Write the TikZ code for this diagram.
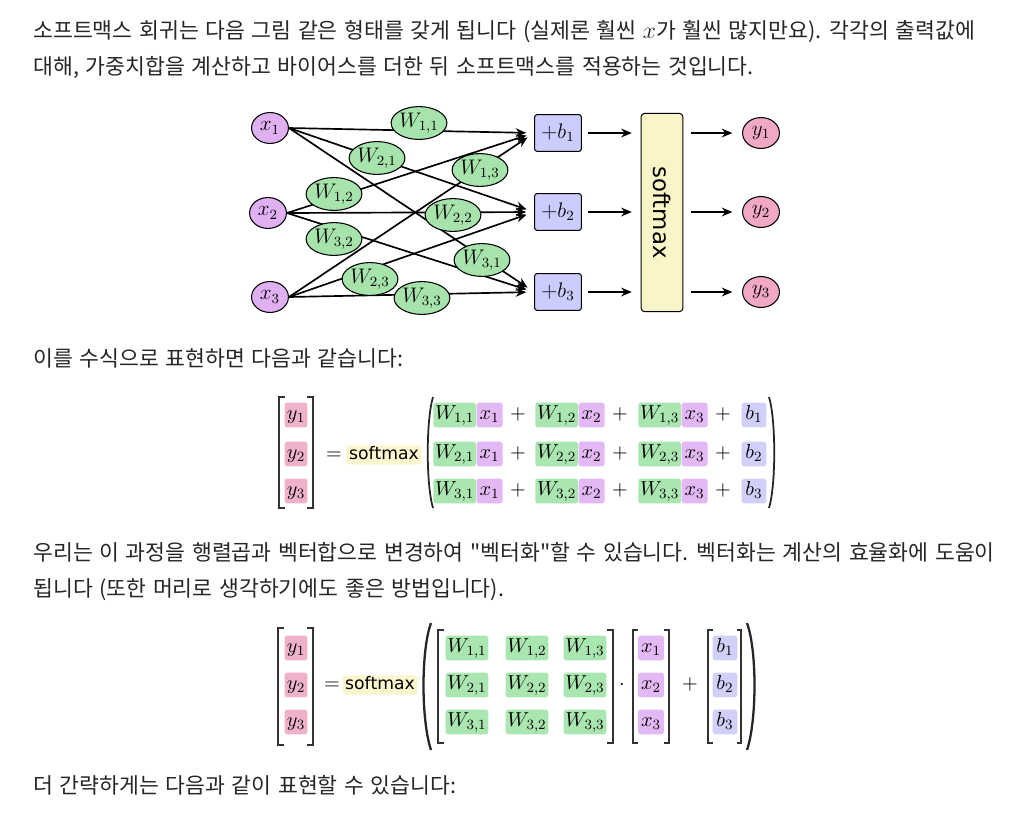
\RequirePackage{fix-cm}
\documentclass[tikz,border=0pt]{standalone}
\usepackage{fontspec}
\usepackage{graphicx}
\usetikzlibrary{math, shapes.geometric, arrows.meta}

\newfontfamily\krfont[WordSpace=1.35]{Noto Sans CJK KR}
\newfontfamily\smfont{DejaVu Sans}

\definecolor{xpurple}{RGB}{224,176,242}
\definecolor{wgreen}{RGB}{166,228,172}
\definecolor{bblue}{RGB}{204,204,255}
\definecolor{syellow}{RGB}{250,245,200}
\definecolor{ypink}{RGB}{240,168,196}
\definecolor{eqgreen}{RGB}{170,230,176}
\definecolor{eqpurple}{RGB}{228,184,244}
\definecolor{eqblue}{RGB}{208,208,250}
\definecolor{eqpink}{RGB}{240,178,202}
\definecolor{eqyellow}{RGB}{252,246,206}

\begin{document}
\begin{tikzpicture}[x=0.02cm, y=-0.02cm,
    >={Stealth[length=6pt, width=5pt]},
    txt/.style={anchor=base west, inner sep=0pt, text=black!85,
        font=\krfont\fontsize{12.3}{14}\selectfont},
    xnode/.style={ellipse, draw, fill=xpurple, line width=0.6pt,
        minimum width=21pt, minimum height=17.6pt, inner sep=0pt,
        font=\fontsize{12}{14}\selectfont},
    ynode/.style={xnode, fill=ypink},
    wnode/.style={xnode, fill=wgreen, minimum width=28.3pt, minimum height=18.7pt},
    bnode/.style={draw, fill=bblue, line width=0.6pt, rounded corners=1.5pt,
        minimum width=26.6pt, minimum height=21pt, inner sep=0pt,
        font=\fontsize{12}{14}\selectfont},
    smnode/.style={draw, fill=syellow, line width=0.6pt, rounded corners=2pt,
        minimum width=23.8pt, minimum height=112.8pt, inner sep=0pt,
        font=\smfont\fontsize{13}{15}\selectfont},
    wire/.style={->, line width=0.95pt},
    hl/.style={inner xsep=1pt, inner ysep=0.8pt, text height=9pt, text depth=3.5pt,
        rounded corners=1.5pt, font=\fontsize{11.5}{14}\selectfont},
    wbox/.style={hl, fill=eqgreen},
    xbox/.style={hl, fill=eqpurple, minimum width=14.7pt},
    bbox/.style={hl, fill=eqblue, minimum width=14pt},
    ybox/.style={hl, fill=eqpink, minimum width=13pt},
    smbox/.style={inner xsep=1.5pt, inner ysep=0.5pt, text height=7.5pt, text depth=2.5pt,
        rounded corners=1.5pt, fill=eqyellow, font=\smfont\fontsize{9.8}{12}\selectfont},
    op/.style={inner sep=0pt, text height=9pt, text depth=3.5pt,
        font=\fontsize{11.5}{14}\selectfont},
    brk/.style={line width=0.85pt, black!80},
    par/.style={line width=1pt, black!85},
]
    \tikzmath{
        \xval = 1031;
        \yval = 812;
    }

% fondo
\fill[white] (0,0) rectangle (\xval,\yval);
\useasboundingbox (0,0) rectangle (\xval,\yval);

% texto
\node[txt] (t1) at (33,38) {소프트맥스 회귀는 다음 그림 같은 형태를 갖게 됩니다 (실제론 훨씬 {\fontsize{13.5}{14}\selectfont$x$}가 훨씬 많지만요). 각각의 출력값에};
\node[txt] (t2) at (33,74) {대해, 가중치합을 계산하고 바이어스를 더한 뒤 소프트맥스를 적용하는 것입니다.};
\node[txt] (t3) at (33,366) {이를 수식으로 표현하면 다음과 같습니다:};
\node[txt] (t4) at (33,560) {우리는 이 과정을 행렬곱과 벡터합으로 변경하여 "벡터화"할 수 있습니다. 벡터화는 계산의 효율화에 도움이};
\node[txt] (t5) at (33,596) {됩니다 (또한 머리로 생각하기에도 좋은 방법입니다).};
\node[txt] (t6) at (33,793) {더 간략하게는 다음과 같이 표현할 수 있습니다:};

% red
\node[xnode] (x1) at (270,128) {$x_1$};
\node[xnode] (x2) at (268,213) {$x_2$};
\node[xnode] (x3) at (270,297) {$x_3$};

\node[bnode] (b1) at (558,133) {$+b_1$};
\node[bnode] (b2) at (558,212) {$+b_2$};
\node[bnode] (b3) at (558,292) {$+b_3$};

\node[smnode] (sm) at (662,212.5) {\rotatebox{-90}{softmax}};

\node[ynode] (y1) at (761,133) {$y_1$};
\node[ynode] (y2) at (761,212) {$y_2$};
\node[ynode] (y3) at (761,292) {$y_3$};

% conexiones
\foreach \i in {1,2,3} {
    \foreach \j in {1,2,3} {
        \draw[wire, shorten >=4.5pt] (x\i.east) -- (b\j.west);
    }
}

% pesos
\foreach \j/\i/\xx/\yy in {1/1/419/123, 2/1/377/158, 3/1/482/260,
                           1/2/334/194, 2/2/453/215, 3/2/334/239,
                           1/3/480/170, 2/3/370/279, 3/3/422/298} {
    \node[wnode] (w\j\i) at (\xx,\yy) {$W_{\j,\i}$};
}

\foreach \j in {1,2,3} {
    \draw[wire, shorten <=3.4pt, shorten >=5pt] (b\j.east) -- (sm.west |- b\j.east);
    \draw[wire, shorten <=4.5pt, shorten >=5.5pt] (sm.east |- y\j.west) -- (y\j.west);
}

% primera ecuacion
\foreach \r/\yy in {1/415, 2/454, 3/491} {
    \node[ybox] (ey\r) at (296,\yy) {$y_\r$};
    \node[wbox, anchor=west] (ew\r1) at (433,\yy) {$W_{\r,1}$};
    \node[xbox, anchor=west] (ex\r1) at (ew\r1.east) {$x_1$};
    \node[op] (ep\r1) at (518,\yy) {$+$};
    \node[wbox, anchor=west] (ew\r2) at (535,\yy) {$W_{\r,2}$};
    \node[xbox, anchor=west] (ex\r2) at (ew\r2.east) {$x_2$};
    \node[op] (ep\r2) at (620,\yy) {$+$};
    \node[wbox, anchor=west] (ew\r3) at (638,\yy) {$W_{\r,3}$};
    \node[xbox, anchor=west] (ex\r3) at (ew\r3.east) {$x_3$};
    \node[op] (ep\r3) at (723,\yy) {$+$};
    \node[bbox] (eb\r) at (754,\yy) {$b_\r$};
}
\node[op] (eeq) at (334,455) {$=$};
\node[smbox] (esm) at (384,455) {softmax};

\draw[brk] (285,397) -- (279,397) -- (279,508) -- (285,508);
\draw[brk] (307,397) -- (313,397) -- (313,508) -- (307,508);
\draw[par] (433,397) .. controls (426,420) and (426,485) .. (433,508);
\draw[par] (769,397) .. controls (776,420) and (776,485) .. (769,508);

% segunda ecuacion
\foreach \r/\yy in {1/648, 2/685, 3/722} {
    \node[ybox] (fy\r) at (296,\yy) {$y_\r$};
    \node[wbox] (fw\r1) at (467,\yy) {$W_{\r,1}$};
    \node[wbox] (fw\r2) at (527,\yy) {$W_{\r,2}$};
    \node[wbox] (fw\r3) at (585,\yy) {$W_{\r,3}$};
    \node[xbox] (fx\r) at (651,\yy) {$x_\r$};
    \node[bbox] (fb\r) at (725,\yy) {$b_\r$};
}
\node[op] (feq) at (332,685) {$=$};
\node[smbox] (fsm) at (380,685) {softmax};
\node[op] (fdot) at (622,685) {$\cdot$};
\node[op] (fplus) at (690,685) {$+$};

\draw[brk] (284,628) -- (278,628) -- (278,745) -- (284,745);
\draw[brk] (307,628) -- (313,628) -- (313,745) -- (307,745);
\draw[brk] (444,630) -- (438,630) -- (438,743) -- (444,743);
\draw[brk] (607,630) -- (613,630) -- (613,743) -- (607,743);
\draw[brk] (638,630) -- (633,630) -- (633,743) -- (638,743);
\draw[brk] (664,630) -- (669,630) -- (669,743) -- (664,743);
\draw[brk] (713,630) -- (708,630) -- (708,743) -- (713,743);
\draw[brk] (737,630) -- (741,630) -- (741,743) -- (737,743);
\draw[par, line width=1.3pt] (431,623) .. controls (421,650) and (421,720) .. (431,750);
\draw[par, line width=1.3pt] (747,623) .. controls (757,650) and (757,720) .. (747,750);

\end{tikzpicture}
\end{document}
